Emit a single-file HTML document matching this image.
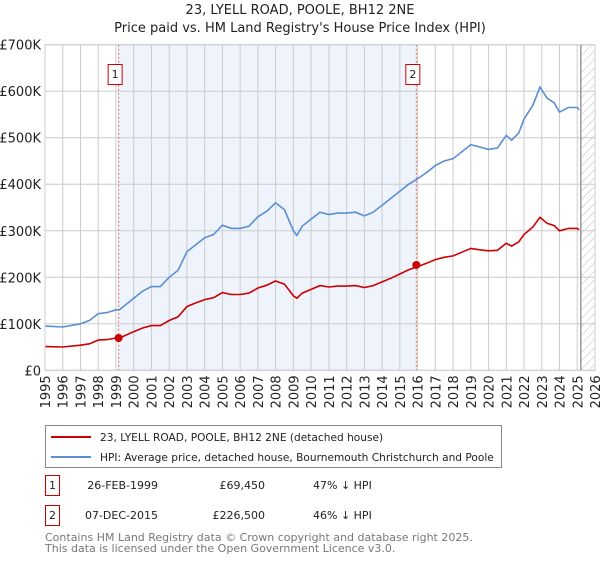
<!DOCTYPE html>
<html><head><meta charset="utf-8"><style>
body{margin:0;background:#fff;font-family:"DejaVu Sans","Liberation Sans",sans-serif;}
svg text{font-family:"DejaVu Sans","Liberation Sans",sans-serif;}
</style></head><body>
<svg id="c" width="600" height="560" xmlns="http://www.w3.org/2000/svg">
<defs><pattern id="hatch" width="6" height="6" patternUnits="userSpaceOnUse" patternTransform="rotate(45)"><line x1="0" y1="0" x2="0" y2="6" stroke="#bbb" stroke-width="1"/></pattern></defs>
<text x="300" y="14" text-anchor="middle" font-size="13" fill="#222">23, LYELL ROAD, POOLE, BH12 2NE</text>
<text x="300" y="32" text-anchor="middle" font-size="13" fill="#222">Price paid vs. HM Land Registry's House Price Index (HPI)</text>
<g id="plot"></g>
<g>
<rect x="45.5" y="425.5" width="456" height="42" fill="#fff" stroke="#888"/>
<line x1="51" y1="437" x2="91" y2="437" stroke="#cc0000" stroke-width="2"/>
<text x="100" y="441" font-size="10.6" fill="#222">23, LYELL ROAD, POOLE, BH12 2NE (detached house)</text>
<line x1="51" y1="457" x2="91" y2="457" stroke="#5b8fd4" stroke-width="2"/>
<text x="100" y="461" font-size="10.6" fill="#222">HPI: Average price, detached house, Bournemouth Christchurch and Poole</text>
</g>
<g font-size="11" fill="#222">
<rect x="45.5" y="475.5" width="14" height="20" fill="none" stroke="#cc0000"/>
<text x="52.5" y="489" text-anchor="middle">1</text>
<text x="158" y="489" text-anchor="end">26-FEB-1999</text>
<text x="265" y="489" text-anchor="end">£69,450</text>
<text x="313" y="489">47% ↓ HPI</text>
<rect x="45.5" y="505.5" width="14" height="20" fill="none" stroke="#cc0000"/>
<text x="52.5" y="519" text-anchor="middle">2</text>
<text x="158" y="519" text-anchor="end">07-DEC-2015</text>
<text x="265" y="519" text-anchor="end">£226,500</text>
<text x="313" y="519">46% ↓ HPI</text>
</g>
<text x="45" y="541" font-size="11" fill="#777">Contains HM Land Registry data © Crown copyright and database right 2025.</text>
<text x="45" y="552" font-size="11" fill="#777">This data is licensed under the Open Government Licence v3.0.</text>
</svg>
<script>
const yTicks=[0,100000,200000,300000,400000,500000,600000,700000];
const yTickLabels=["£0","£100K","£200K","£300K","£400K","£500K","£600K","£700K"];
const xYears=[1995,1996,1997,1998,1999,2000,2001,2002,2003,2004,2005,2006,2007,2008,2009,2010,2011,2012,2013,2014,2015,2016,2017,2018,2019,2020,2021,2022,2023,2024,2025,2026];
const hpiT=[1995,1996,1997,1997.5,1998,1998.5,1999,1999.2,2000,2000.5,2001,2001.5,2002,2002.5,2003,2003.5,2004,2004.5,2005,2005.5,2006,2006.5,2007,2007.5,2008,2008.5,2009,2009.2,2009.5,2010,2010.5,2011,2011.5,2012,2012.5,2013,2013.5,2014,2014.5,2015,2015.5,2016,2016.5,2017,2017.5,2018,2018.5,2019,2019.5,2020,2020.5,2021,2021.3,2021.7,2022,2022.5,2022.9,2023.3,2023.7,2024,2024.5,2025,2025.1];
const hpiV=[95,93,100,107,122,124,130,130,155,170,180,180,200,215,255,270,285,292,312,305,305,310,330,342,360,345,300,290,310,325,340,335,338,338,340,332,340,355,370,385,400,412,425,440,450,455,470,485,480,475,478,505,495,510,540,570,609,585,575,555,565,565,560];
const redV=[51,50,54,57,65,66,69.5,69.5,83,91,96,96,107,115,137,145,152,156,167,163,163,166,177,183,192,185,160,155,166,174,182,179,181,181,182,178,182,190,198,207,216,223,230,238,243,246,254,262,259,257,258,273,267,276,292,308,329,316,311,300,305,305,302];
const sales=[{t:1999.15,v:69450,label:"1"},{t:2015.93,v:226500,label:"2"}];
const projStart=2025.2;

const L=45,R=595,T=44.7,B=370.3;
const x=t=>L+(t-1995)/(2026-1995)*(R-L);
const y=v=>B-v/700000*(B-T);
const NS="http://www.w3.org/2000/svg";
const g=document.getElementById('plot');
function mk(tag,attrs){const e=document.createElementNS(NS,tag);for(const k in attrs)e.setAttribute(k,attrs[k]);g.appendChild(e);return e;}
let e;
e=mk('rect',{x:x(sales[0].t),y:T,width:x(sales[1].t)-x(sales[0].t),height:B-T,fill:'#eef3fc'});


e=mk('rect',{x:x(projStart),y:T,width:R-x(projStart),height:B-T,fill:'url(#hatch)'});


yTicks.forEach((v,i)=>{
 e=mk('line',{x1:L,x2:R,y1:y(v),y2:y(v),stroke:'#ccc'});
 
 
 e=mk('text',{x:L-4,y:y(v)+5,'text-anchor':'end','font-size':13,fill:'#222'});
 e.textContent=yTickLabels[i];
 
 
});
xYears.forEach(t=>{
 e=mk('line',{x1:x(t),x2:x(t),y1:T,y2:B,stroke:'#ccc'});
 
 
 e=mk('text',{x:0,y:0,'text-anchor':'end','font-size':13,fill:'#222',transform:`translate(${x(t)+5},${B+5}) rotate(-90)`});
 e.textContent=t;
 
 
});
e=mk('line',{x1:x(projStart),x2:x(projStart),y1:T,y2:B,stroke:'#999','stroke-width':1.5});


sales.forEach(s=>{
 e=mk('line',{x1:x(s.t),x2:x(s.t),y1:T,y2:B,stroke:'#e06666','stroke-dasharray':'2,2'});
 
 
});
const pts=arr=>hpiT.map((t,i)=>x(t).toFixed(1)+','+y(arr[i]*1000).toFixed(1)).join(' ');
e=mk('polyline',{points:pts(hpiV),fill:'none',stroke:'#5b8fd4','stroke-width':1.6});


e=mk('polyline',{points:pts(redV),fill:'none',stroke:'#cc0000','stroke-width':1.6});


sales.forEach(s=>{
 e=mk('circle',{cx:x(s.t),cy:y(s.v),r:4,fill:'#cc0000'});
 
 
 e=mk('rect',{x:x(s.t)-10.5,y:64.5,width:14,height:20,fill:'#fff',stroke:'#cc0000'});
 
 
 e=mk('text',{x:x(s.t)-3.5,y:78,'text-anchor':'middle','font-size':11,fill:'#222'});
 e.textContent=s.label;
 
 
});
e=mk('rect',{x:L,y:T,width:R-L,height:B-T,fill:'none',stroke:'#ccc'});


</script>
</body></html>
